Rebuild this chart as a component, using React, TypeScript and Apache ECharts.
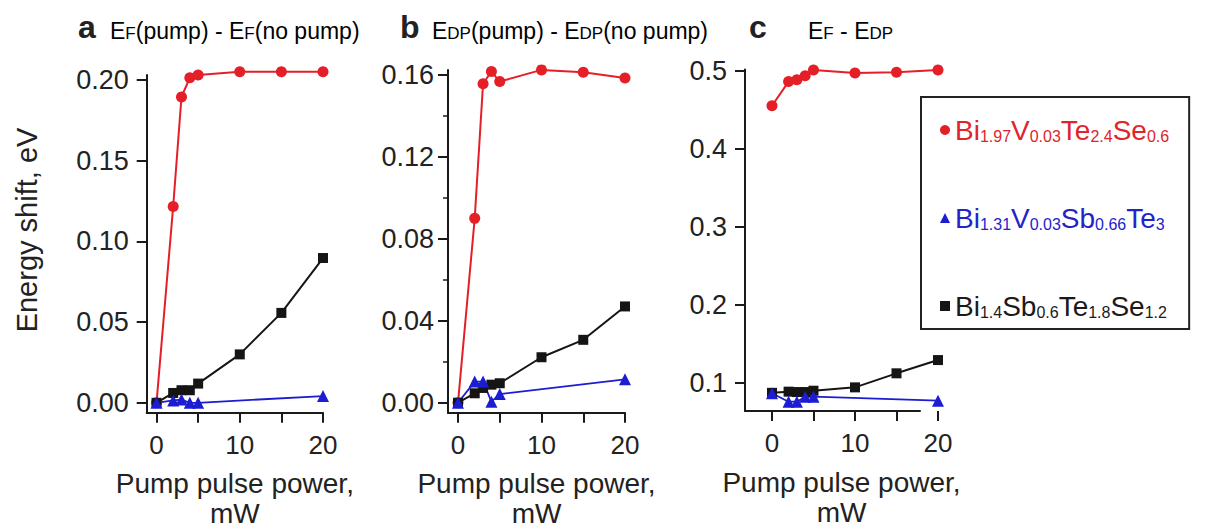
import React, { useEffect, useRef } from 'react';
import * as echarts from 'echarts';

// ---- data ----
const powerFull = [0, 2, 3, 4, 5, 10, 15, 20];
const powerBlue = [0, 2, 3, 4, 5, 20];

const aRed = [0, 0.1216, 0.1895, 0.2014, 0.2031, 0.2051, 0.2051, 0.2051];
const aBlack = [0, 0.0061, 0.0078, 0.0078, 0.0119, 0.030, 0.0557, 0.0897];
const aBlue = [0, 0.0015, 0.002, 0, 0, 0.0042];

const bRed = [0, 0.090, 0.1557, 0.1617, 0.1568, 0.1625, 0.1613, 0.1585];
const bBlack = [0, 0.0046, 0.0072, 0.0088, 0.0095, 0.0222, 0.0307, 0.047];
const bBlue = [0, 0.0103, 0.0103, 0.0005, 0.0042, 0.0114];

const cRed = [0.455, 0.486, 0.4885, 0.4936, 0.501, 0.497, 0.498, 0.501];
const cBlack = [0.087, 0.0885, 0.088, 0.088, 0.0897, 0.094, 0.112, 0.129];
const cBlue = [0.0864, 0.0756, 0.0756, 0.082, 0.082, 0.0769];

const yTicksA = [0, 0.05, 0.1, 0.15, 0.2];
const yTicksB = [0, 0.04, 0.08, 0.12, 0.16];
const yMinorB = [0.02, 0.06, 0.1, 0.14];
const yTicksC = [0.1, 0.2, 0.3, 0.4, 0.5];
const xTicks = [0, 5, 10, 15, 20];
const xLabels = [0, 10, 20];

const seriesNames = ['Bi1.97V0.03Te2.4Se0.6', 'Bi1.31V0.03Sb0.66Te3', 'Bi1.4Sb0.6Te1.8Se1.2'];

const FONT = '"Liberation Sans", Arial, Helvetica, sans-serif';
const RED = '#e51f27';
const BLUE = '#1c1cd2';
const BLACK = '#151515';
const AX = '#1a1a1a';

function yAx(gridIndex: number, min: number, max: number, ticks: number[], digits: number, margin: number, showLine = true) {
  return {
    type: 'value', gridIndex, min, max, position: 'left', offset: 0,
    axisLine: { show: showLine, onZero: false, lineStyle: { color: AX, width: 2 } },
    axisTick: { show: true, length: 10, customValues: ticks, lineStyle: { color: AX, width: 2 } },
    axisLabel: {
      show: true, customValues: ticks, margin, fontSize: 27, color: '#222', fontFamily: FONT,
      formatter: (v: number) => v.toFixed(digits),
    },
    splitLine: { show: false },
  };
}

function xAx(gridIndex: number, min: number, max: number, showLine: boolean) {
  return {
    type: 'value', gridIndex, min, max, position: 'bottom',
    axisLine: { show: showLine, onZero: false, lineStyle: { color: AX, width: 2 } },
    axisTick: { show: true, length: 10, customValues: xTicks, lineStyle: { color: AX, width: 2 } },
    axisLabel: {
      show: true, customValues: xLabels, margin: 19, fontSize: 26, color: '#222', fontFamily: FONT,
      formatter: (v: number) => String(v),
    },
    splitLine: { show: false },
    name: 'Pump pulse power,\nmW',
    nameLocation: 'middle',
    nameGap: 56,
    nameTextStyle: { fontSize: 28, lineHeight: 30, color: '#222', fontFamily: FONT },
  };
}

function mk(name: string, xs: number[], ys: number[], idx: number, color: string, symbol: string, size: number, width: number) {
  return {
    type: 'line', name, xAxisIndex: idx, yAxisIndex: idx,
    data: xs.map((x, i) => [x, ys[i]]),
    symbol, symbolSize: size, showSymbol: true,
    lineStyle: { color, width }, itemStyle: { color }, color,
    clip: false, silent: true,
  };
}

function richSet(key: string, color: string) {
  return {
    [key]: { fontSize: 28, lineHeight: 28, color, fontFamily: FONT, verticalAlign: 'middle' },
    [key + 's']: { fontSize: 16, lineHeight: 10, color, fontFamily: FONT, verticalAlign: 'bottom' },
  };
}

const legendRich: Record<string, string> = {
  [seriesNames[0]]: '{r|Bi}{rs|1.97}{r|V}{rs|0.03}{r|Te}{rs|2.4}{r|Se}{rs|0.6}',
  [seriesNames[1]]: '{u|Bi}{us|1.31}{u|V}{us|0.03}{u|Sb}{us|0.66}{u|Te}{us|3}',
  [seriesNames[2]]: '{k|Bi}{ks|1.4}{k|Sb}{ks|0.6}{k|Te}{ks|1.8}{k|Se}{ks|1.2}',
};

const titleRich = {
  e: { fontSize: 23, lineHeight: 23, color: '#222', fontFamily: FONT, verticalAlign: 'middle' },
  s: { fontSize: 17, lineHeight: 19, color: '#222', fontFamily: FONT, verticalAlign: 'bottom' },
};

const gridBase = { outerBoundsMode: 'none', containLabel: false };

export default function App() {
  const ref = useRef<HTMLDivElement>(null);
  useEffect(() => {
    if (!ref.current) return;
    const chart = echarts.init(ref.current, undefined, { renderer: 'svg' });
    const option = {
      animation: false,
      backgroundColor: '#ffffff',
      grid: [
        { ...gridBase, left: 146.7, top: 75, width: 176.3, height: 337.7 },
        { ...gridBase, left: 448, top: 70, width: 177, height: 342.7 },
        { ...gridBase, left: 745, top: 69.5, width: 193, height: 341.5 },
        { ...gridBase, left: 745, top: 69.5, width: 175, height: 341.5 },
      ],
      xAxis: [
        xAx(0, -1.18, 20, true),
        xAx(1, -1.2, 20, true),
        xAx(2, -3.25, 20, false),
        {
          type: 'value', gridIndex: 3, min: -3.25, max: 17.83, position: 'bottom',
          axisLine: { show: true, onZero: false, lineStyle: { color: AX, width: 2 } },
          axisTick: { show: false }, axisLabel: { show: false }, splitLine: { show: false },
        },
      ],
      yAxis: [
        yAx(0, -0.00613, 0.2031, yTicksA, 2, 18),
        yAx(1, -0.00488, 0.16244, yTicksB, 2, 14),
        yAx(2, 0.0637, 0.5015, yTicksC, 1, 18, false),
        {
          type: 'value', gridIndex: 1, min: -0.00488, max: 0.16244, position: 'left', offset: 0,
          axisLine: { show: false, onZero: false },
          axisTick: { show: true, length: 5, customValues: yMinorB, lineStyle: { color: AX, width: 1.5 } },
          axisLabel: { show: false }, splitLine: { show: false },
        },
        {
          type: 'value', gridIndex: 3, min: 0.0637, max: 0.5015, position: 'left', offset: 0,
          axisLine: { show: true, onZero: false, lineStyle: { color: AX, width: 2 } },
          axisTick: { show: false }, axisLabel: { show: false }, splitLine: { show: false },
        },
      ],
      legend: {
        orient: 'vertical', left: 921, top: 97,
        padding: [19, 20, 9, 19],
        itemGap: 60, itemWidth: 10, itemHeight: 10, itemTextGap: 8,
        borderColor: '#222', borderWidth: 2, backgroundColor: '#fff',
        selectedMode: false,
        data: [
          { name: seriesNames[0], icon: 'circle' },
          { name: seriesNames[1], icon: 'triangle' },
          { name: seriesNames[2], icon: 'rect' },
        ],
        formatter: (n: string) => legendRich[n],
        textStyle: { rich: { ...richSet('r', '#e0242c'), ...richSet('u', '#2323cc'), ...richSet('k', '#1a1a1a') } },
      },
      graphic: [
        { type: 'text', left: 78, top: 11, style: { text: 'a', font: `bold 32px ${FONT}`, fill: '#222' } },
        { type: 'text', left: 110, top: 19, style: { text: '{e|E}{s|F}{e|(pump) - E}{s|F}{e|(no pump)}', rich: titleRich } },
        { type: 'text', left: 400, top: 11, style: { text: 'b', font: `bold 32px ${FONT}`, fill: '#222' } },
        { type: 'text', left: 432, top: 19, style: { text: '{e|E}{s|DP}{e|(pump) - E}{s|DP}{e|(no pump)}', rich: titleRich } },
        { type: 'text', left: 749, top: 11, style: { text: 'c', font: `bold 32px ${FONT}`, fill: '#222' } },
        { type: 'text', left: 808, top: 19, style: { text: '{e|E}{s|F}{e| - E}{s|DP}', rich: titleRich } },
        {
          type: 'text', x: 27, y: 230, rotation: Math.PI / 2,
          style: { text: 'Energy shift, eV', font: `29px ${FONT}`, fill: '#222', align: 'center', verticalAlign: 'middle' },
        },
      ],
      series: [
        mk(seriesNames[0], powerFull, aRed, 0, RED, 'circle', 11, 2),
        mk(seriesNames[2], powerFull, aBlack, 0, BLACK, 'rect', 10, 2),
        mk(seriesNames[1], powerBlue, aBlue, 0, BLUE, 'triangle', 12, 1.8),
        mk(seriesNames[0], powerFull, bRed, 1, RED, 'circle', 11, 2),
        mk(seriesNames[2], powerFull, bBlack, 1, BLACK, 'rect', 10, 2),
        mk(seriesNames[1], powerBlue, bBlue, 1, BLUE, 'triangle', 12, 1.8),
        mk(seriesNames[0], powerFull, cRed, 2, RED, 'circle', 11, 2),
        mk(seriesNames[2], powerFull, cBlack, 2, BLACK, 'rect', 10, 2),
        mk(seriesNames[1], powerBlue, cBlue, 2, BLUE, 'triangle', 12, 1.8),
      ],
    };
    chart.setOption(option as any);
    return () => chart.dispose();
  }, []);
  return <div ref={ref} style={{ position: 'fixed', left: 0, top: 0, width: 1205, height: 529, background: '#fff' }} />;
}
